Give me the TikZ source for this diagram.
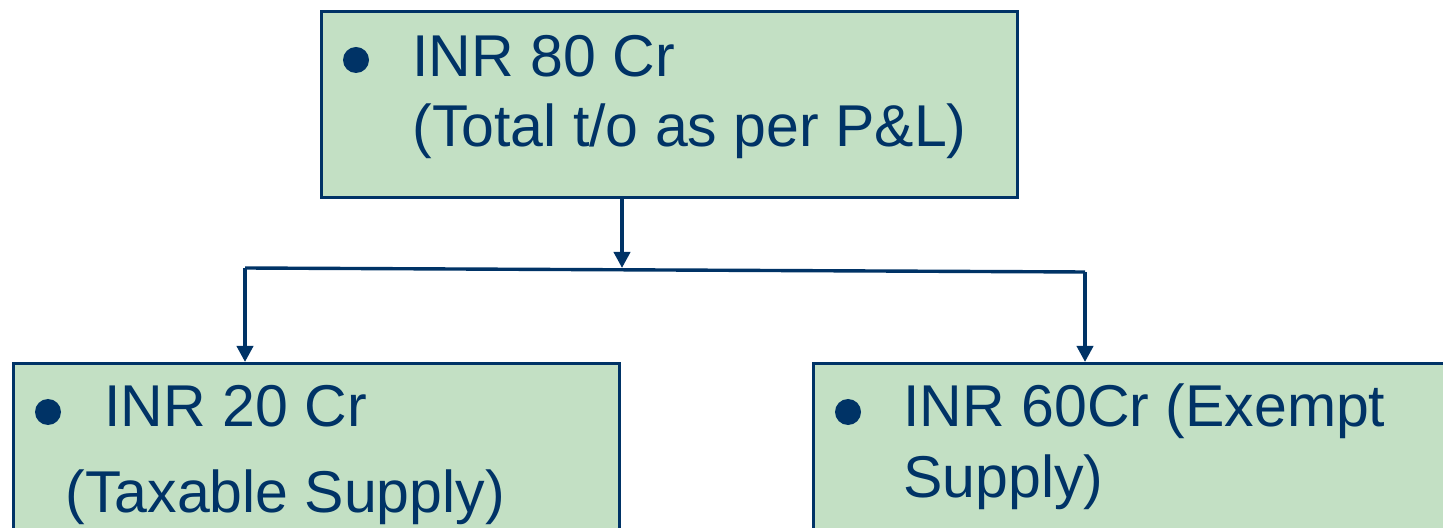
\documentclass[tikz,border=0pt]{standalone}
\usepackage{fontspec}
\setmainfont{Liberation Sans}
\usetikzlibrary{arrows.meta}
\definecolor{navy}{RGB}{0,51,102}
\definecolor{mint}{RGB}{195,224,196}

\begin{document}
\begin{tikzpicture}[x=0.5pt, y=-0.5pt, line width=1.5pt,
    box/.style={draw=navy, fill=mint, line width=1.5pt, inner sep=0pt},
    txt/.style={text=navy, anchor=base west, inner sep=0pt, font=\fontsize{29.5}{36}\selectfont},
    dot/.style={circle, fill=navy, inner sep=0pt, minimum size=13pt},
    arr/.style={draw=navy, line width=1.9pt, -{Triangle[length=8pt, width=8pt]}}]

    % --- Cornice ---
    \useasboundingbox (0, 0) rectangle (1443, 528);
    \clip (0, 0) rectangle (1443, 528);

    % --- Riquadri ---
    \node[box, minimum width=348pt, minimum height=93pt, anchor=north west] (total) at (320, 10) {};
    \node[box, minimum width=303pt, minimum height=120pt, anchor=north west] (taxable) at (12, 362) {};
    \node[box, minimum width=400pt, minimum height=120pt, anchor=north west] (exempt) at (812, 362) {};

    % --- Testi ---
    \node[dot] (b1) at (356, 60) {};
    \node[txt] (t1) at (411, 77) {INR 80 Cr};
    \node[txt] (t2) at (411, 147) {(Total t/o as per P\&L)};

    \node[dot] (b2) at (48, 412) {};
    \node[txt] (t3) at (103, 427) {INR 20 Cr};
    \node[txt] (t4) at (64, 512) {(Taxable Supply)};

    \node[dot] (b3) at (848, 412) {};
    \node[txt] (t5) at (902, 427) {INR 60Cr (Exempt};
    \node[txt] (t6) at (902, 497) {Supply)};

    % --- Connettori ---
    \coordinate (split) at (622, 268);
    \coordinate (lcorner) at (245, 268);
    \coordinate (rcorner) at (1085, 272);

    \draw[arr] (total.south -| split) -- (split);
    \draw[navy, line width=1.7pt] (lcorner) -- (rcorner);
    \draw[arr] (lcorner) -- (lcorner |- taxable.north);
    \draw[arr] (rcorner) -- (rcorner |- exempt.north);

\end{tikzpicture}
\end{document}
